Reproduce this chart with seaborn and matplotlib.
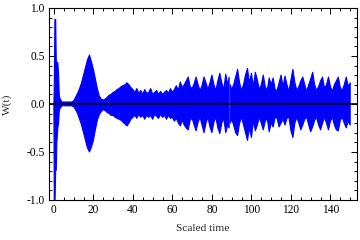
import numpy as np
import pandas as pd
import matplotlib
matplotlib.use("Agg")
import matplotlib.pyplot as plt
import seaborn as sns
from matplotlib.ticker import MultipleLocator, FormatStrFormatter

# Envelope of W(t) (upper / lower extent of the oscillation)
t_head = [0, 0.2, 0.5, 0.9, 1.2, 1.5, 2.0, 2.4, 2.7, 3.0, 3.5]
up_head = [0, 0.2, 0.88, 0.88, 0.45, 0.43, 0.43, 0.3, 0.1, 0.06, 0.04]
lo_head = [0, -1.1, -1.1, -0.69, -0.69, -0.4, -0.25, -0.2, -0.08, -0.05, -0.04]

t_a = list(range(4, 89))
up_a = [0.02, 0.02, 0.02, 0.02, 0.02, 0.02,
        0.03, 0.07, 0.11, 0.16, 0.22, 0.30, 0.38, 0.46, 0.51, 0.44,
        0.36, 0.26, 0.16, 0.08, 0.05, 0.04, 0.05, 0.07, 0.09, 0.10,
        0.12, 0.13, 0.15, 0.16, 0.18, 0.19, 0.20, 0.22, 0.20, 0.17,
        0.15, 0.12, 0.16, 0.11, 0.14, 0.10, 0.15, 0.11, 0.12, 0.16,
        0.10, 0.12, 0.14, 0.10, 0.13, 0.10, 0.12, 0.14, 0.11, 0.16,
        0.12, 0.15, 0.19, 0.14, 0.23, 0.17, 0.20, 0.24, 0.28, 0.18,
        0.16, 0.21, 0.28, 0.20, 0.14, 0.19, 0.28, 0.22, 0.15, 0.22,
        0.30, 0.20, 0.14, 0.24, 0.32, 0.22, 0.15, 0.31, 0.20]
lo_a = [-0.02, -0.02, -0.02, -0.02, -0.02, -0.02,
        -0.03, -0.06, -0.10, -0.16, -0.22, -0.30, -0.38, -0.46, -0.50, -0.45,
        -0.38, -0.27, -0.17, -0.11, -0.08, -0.06, -0.07, -0.09, -0.10, -0.12,
        -0.12, -0.14, -0.15, -0.16, -0.17, -0.19, -0.21, -0.23, -0.20, -0.16,
        -0.14, -0.12, -0.15, -0.11, -0.14, -0.12, -0.16, -0.12, -0.14, -0.12,
        -0.16, -0.11, -0.13, -0.15, -0.11, -0.14, -0.12, -0.16, -0.12, -0.15,
        -0.14, -0.18, -0.15, -0.20, -0.23, -0.17, -0.22, -0.25, -0.27, -0.17,
        -0.15, -0.22, -0.28, -0.19, -0.14, -0.22, -0.30, -0.20, -0.14, -0.24,
        -0.30, -0.19, -0.14, -0.25, -0.31, -0.20, -0.15, -0.30, -0.22]

# small white gap in the trace near t = 89
t_gap = [88.7, 89.0, 89.3]
up_gap = [0.28, np.nan, 0.20]
lo_gap = [-0.25, np.nan, -0.20]

t_b = list(range(90, 151))
up_b = [0.15, 0.20, 0.28, 0.36, 0.22, 0.14, 0.20, 0.30, 0.37, 0.22,
        0.32, 0.18, 0.33, 0.25, 0.15, 0.20, 0.30, 0.18, 0.14, 0.27,
        0.20, 0.27, 0.15, 0.14, 0.22, 0.30, 0.18, 0.29, 0.20, 0.13,
        0.25, 0.36, 0.22, 0.14, 0.18, 0.24, 0.28, 0.20, 0.13, 0.20,
        0.26, 0.33, 0.20, 0.14, 0.18, 0.24, 0.28, 0.16, 0.20, 0.28,
        0.18, 0.13, 0.20, 0.24, 0.28, 0.17, 0.14, 0.20, 0.28, 0.18, 0.22]
lo_b = [-0.16, -0.22, -0.30, -0.33, -0.20, -0.14, -0.22, -0.30, -0.38, -0.25,
        -0.35, -0.18, -0.28, -0.22, -0.14, -0.20, -0.27, -0.18, -0.15, -0.29,
        -0.20, -0.24, -0.14, -0.15, -0.24, -0.20, -0.16, -0.22, -0.15, -0.14,
        -0.28, -0.35, -0.20, -0.14, -0.20, -0.27, -0.22, -0.16, -0.14, -0.22,
        -0.29, -0.24, -0.17, -0.14, -0.22, -0.27, -0.20, -0.14, -0.20, -0.27,
        -0.18, -0.14, -0.22, -0.27, -0.28, -0.17, -0.14, -0.20, -0.25, -0.18, -0.22]

df = pd.DataFrame({
    "t": t_head + t_a + t_gap + t_b,
    "upper": up_head + up_a + up_gap + up_b,
    "lower": lo_head + lo_a + lo_gap + lo_b,
})

sns.set_style("ticks")
plt.rcParams["font.family"] = ["Liberation Serif", "DejaVu Serif"]
plt.rcParams["axes.unicode_minus"] = True

fig = plt.figure(figsize=(3.6, 2.4), dpi=100)
ax = fig.add_axes([0.136, 0.167, 0.856, 0.80])

blue = "#0000ff"
ax.fill_between(df["t"], df["lower"], df["upper"], color=blue, lw=0.8,
                edgecolor=blue, zorder=2)
ax.axhline(0, color="black", lw=1.2, zorder=3)

ax.set_xlim(-2.5, 153.5)
ax.set_ylim(-1, 1)
ax.xaxis.set_major_locator(MultipleLocator(20))
ax.xaxis.set_minor_locator(MultipleLocator(5))
ax.yaxis.set_major_locator(MultipleLocator(0.5))
ax.yaxis.set_minor_locator(MultipleLocator(0.1))
ax.yaxis.set_major_formatter(FormatStrFormatter("%.1f"))

ax.tick_params(which="both", direction="in", top=True, right=True,
               width=0.7, colors="black", labelsize=8.3, pad=3)
ax.tick_params(which="major", length=4)
ax.tick_params(which="minor", length=2.2)
for s in ax.spines.values():
    s.set_linewidth(0.8)
    s.set_color("black")

ax.set_xlabel("Scaled time", fontsize=8.2)
ax.set_ylabel("W(t)", fontsize=8.2, va="center")
ax.xaxis.set_label_coords(0.5, -0.125)
ax.yaxis.set_label_coords(-0.135, 0.5)

fig.savefig("out.png", dpi=100)
